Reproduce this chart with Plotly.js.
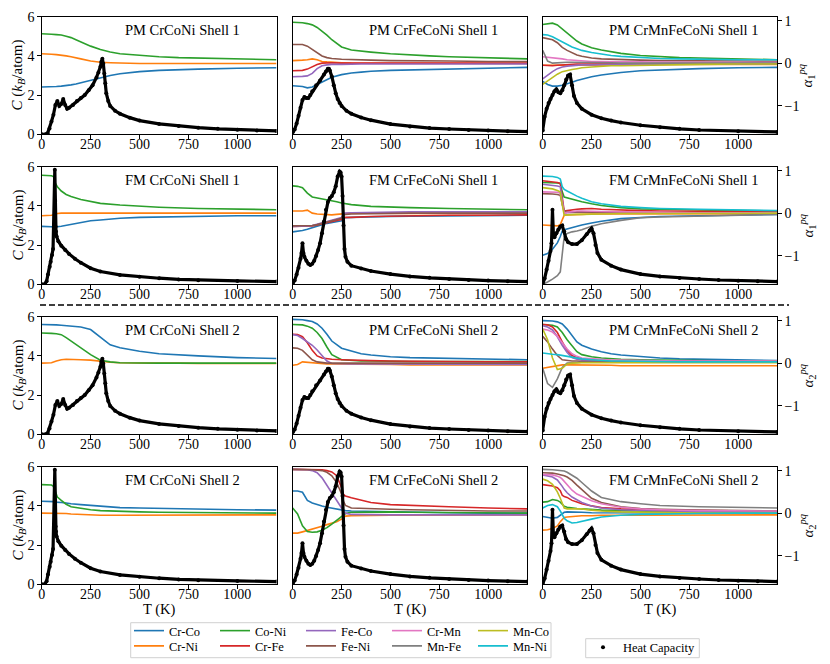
<!DOCTYPE html>
<html><head><meta charset="utf-8">
<script src="https://cdn.plot.ly/plotly-3.0.1.min.js"></script>
<style>html,body{margin:0;padding:0;background:#fff}#chart{width:830px;height:664px}</style>
</head><body><div id="chart"></div>
<script>
// ---------- labels ----------
const pairNames = ["Cr-Co","Cr-Ni","Co-Ni","Cr-Fe","Fe-Co","Fe-Ni","Cr-Mn","Mn-Fe","Mn-Co","Mn-Ni"];
const pairColors = ["#1f77b4","#ff7f0e","#2ca02c","#d62728","#9467bd","#8c564b","#e377c2","#7f7f7f","#bcbd22","#17becf"];
const panelTitles = ["PM CrCoNi Shell 1","PM CrFeCoNi Shell 1","PM CrMnFeCoNi Shell 1",
  "FM CrCoNi Shell 1","FM CrFeCoNi Shell 1","FM CrMnFeCoNi Shell 1",
  "PM CrCoNi Shell 2","PM CrFeCoNi Shell 2","PM CrMnFeCoNi Shell 2",
  "FM CrCoNi Shell 2","FM CrFeCoNi Shell 2","FM CrMnFeCoNi Shell 2"];
const xTicks = [0,250,500,750,1000];
const cTicks = [0,2,4,6];
const aTicks = [-1,0,1];

// ---------- heat capacity C (kB/atom) ----------
const hcT_PM_CrCoNi = [0,20,30,40,50,60,70,80,90,100,110,120,130,140,160,180,200,220,240,260,280,290,300,305,310,315,320,325,330,340,350,375,400,450,500,600,700,800,900,1000,1100,1200];
const hc_PM_CrCoNi  = [0,0,0.05,0.3,0.65,1.0,1.5,1.7,1.45,1.55,1.8,1.5,1.3,1.35,1.5,1.7,1.85,2.0,2.25,2.5,2.9,3.15,3.45,3.7,3.85,3.6,3.1,2.6,2.1,1.7,1.45,1.2,1.05,0.85,0.7,0.53,0.42,0.34,0.28,0.23,0.2,0.17];
const hcT_PM_CrFeCoNi = [0,10,20,30,40,50,60,70,80,90,100,120,140,160,170,180,185,190,200,210,220,230,240,250,275,300,350,400,500,600,700,800,900,1000,1100,1200];
const hc_PM_CrFeCoNi  = [0.1,0.25,0.55,0.95,1.35,1.75,1.9,1.85,1.85,2.0,2.2,2.5,2.75,3.05,3.2,3.35,3.35,3.25,2.95,2.5,2.1,1.8,1.6,1.45,1.2,1.05,0.86,0.72,0.52,0.4,0.32,0.27,0.22,0.19,0.16,0.14];
const hcT_PM_CrMnFeCoNi = [0,10,20,30,40,50,60,70,80,90,100,110,120,130,140,150,160,175,200,250,300,350,400,500,600,700,800,1000,1200];
const hc_PM_CrMnFeCoNi  = [0.2,0.9,1.3,1.6,1.8,2.0,2.2,2.3,2.15,2.1,2.25,2.5,2.8,3.0,3.05,2.5,1.95,1.6,1.3,1.0,0.82,0.7,0.6,0.46,0.36,0.28,0.22,0.15,0.12];
const hcT_FM_CrCoNi = [0,15,25,32,41,46,53,58,67,69,71,73,76,85,100,120,140,170,200,250,300,400,500,600,700,800,1000,1200];
const hc_FM_CrCoNi  = [0,0,0.15,0.5,0.9,1.15,1.5,1.8,5.85,4.25,2.95,2.7,2.45,2.2,1.97,1.75,1.55,1.3,1.1,0.82,0.65,0.48,0.38,0.31,0.25,0.21,0.17,0.14];
const hcT_FM_CrFeCoNi = [0,10,20,30,40,45,50,55,60,70,80,90,100,110,120,130,140,150,160,170,180,190,200,210,220,230,240,245,250,255,260,265,270,280,300,350,400,500,600,700,800,900,1000,1100,1200];
const hc_FM_CrFeCoNi  = [0.05,0.2,0.5,0.85,1.3,1.6,2.1,1.6,1.4,1.2,1.05,0.98,1.05,1.2,1.45,1.75,2.1,2.6,3.2,3.8,4.2,4.4,4.5,4.7,5.0,5.5,5.75,5.7,5.5,4.5,3.0,1.8,1.4,1.15,0.95,0.8,0.68,0.52,0.4,0.33,0.27,0.22,0.19,0.16,0.14];
const hcT_FM_CrMnFeCoNi = [0,10,20,30,40,45,50,55,60,70,80,90,100,110,120,130,150,175,200,225,240,250,260,270,280,300,350,400,500,600,700,800,900,1000,1100,1200];
const hc_FM_CrMnFeCoNi  = [0,0.3,0.75,1.2,1.7,2.1,3.8,2.5,2.4,2.6,2.8,2.95,3.0,2.7,2.3,2.15,2.05,2.05,2.25,2.55,2.75,2.85,2.6,2.0,1.6,1.25,0.95,0.75,0.52,0.4,0.32,0.27,0.22,0.18,0.16,0.14];

// ---------- temperature grids for alpha ----------
const T_PM = [0,25,50,75,100,125,150,175,200,250,300,350,400,500,600,700,800,1000,1200];
const T_FM_CrCoNi = [0,25,50,60,70,80,100,125,150,200,250,300,400,500,600,800,1000,1200];
const T_FM_CrFeCoNi = [0,25,50,75,100,125,150,175,200,225,250,260,270,300,400,500,600,800,1000,1200];
const T_FM_CrMnFeCoNi = [0,25,50,75,90,100,110,125,150,175,200,250,300,400,500,600,800,1000,1200];

// ---------- alpha: PM CrCoNi shell 1 ----------
const P1_CrCo = [-0.56,-0.56,-0.56,-0.55,-0.54,-0.53,-0.51,-0.49,-0.46,-0.40,-0.34,-0.29,-0.25,-0.20,-0.17,-0.15,-0.14,-0.12,-0.11];
const P1_CrNi = [0.22,0.22,0.21,0.2,0.19,0.17,0.15,0.13,0.1,0.05,0.02,0.01,0.0,-0.01,-0.01,-0.01,-0.01,-0.01,-0.01];
const P1_CoNi = [0.69,0.69,0.68,0.67,0.66,0.63,0.6,0.55,0.5,0.4,0.32,0.26,0.22,0.18,0.15,0.13,0.12,0.09,0.08];
// PM CrFeCoNi shell 1
const P2_CrCo = [-0.53,-0.54,-0.55,-0.58,-0.56,-0.5,-0.44,-0.38,-0.33,-0.27,-0.23,-0.21,-0.19,-0.17,-0.16,-0.14,-0.13,-0.11,-0.1];
const P2_CrNi = [0.06,0.06,0.07,0.08,0.1,0.08,0.04,0.03,0.02,0.01,0.0,0.0,0.0,-0.01,-0.01,-0.01,-0.01,-0.01,-0.01];
const P2_CoNi = [0.96,0.96,0.95,0.93,0.9,0.84,0.76,0.66,0.55,0.38,0.31,0.28,0.26,0.22,0.19,0.17,0.15,0.12,0.1];
const P2_CrFe = [-0.18,-0.18,-0.17,-0.14,-0.09,-0.03,0.0,0.01,0.01,0.0,0.0,0.0,0.0,0.0,0.0,0.0,0.0,0.0,0.0];
const P2_FeCo = [-0.32,-0.32,-0.31,-0.3,-0.24,-0.13,-0.06,-0.04,-0.03,-0.03,-0.02,-0.02,-0.02,-0.02,-0.02,-0.02,-0.02,-0.02,-0.02];
const P2_FeNi = [0.44,0.44,0.44,0.4,0.32,0.24,0.17,0.13,0.11,0.09,0.08,0.07,0.07,0.06,0.06,0.05,0.05,0.04,0.04];
// PM CrMnFeCoNi shell 1
const P3_CrCo = [-0.43,-0.5,-0.54,-0.54,-0.52,-0.49,-0.45,-0.41,-0.38,-0.32,-0.28,-0.25,-0.22,-0.18,-0.16,-0.14,-0.13,-0.11,-0.1];
const P3_CrNi = [-0.05,-0.05,-0.05,-0.05,-0.05,-0.05,-0.05,-0.05,-0.05,-0.04,-0.04,-0.04,-0.04,-0.04,-0.03,-0.03,-0.03,-0.03,-0.03];
const P3_CoNi = [0.91,0.92,0.94,0.9,0.8,0.7,0.6,0.52,0.45,0.36,0.31,0.27,0.23,0.18,0.15,0.13,0.12,0.1,0.08];
const P3_CrFe = [-0.05,-0.06,-0.06,-0.05,-0.04,-0.03,-0.03,-0.02,-0.02,-0.02,-0.01,-0.01,-0.01,-0.01,-0.01,0,0,0,0];
const P3_FeCo = [-0.37,-0.28,-0.2,-0.13,-0.09,-0.07,-0.06,-0.05,-0.04,-0.04,-0.03,-0.03,-0.03,-0.03,-0.02,-0.02,-0.02,-0.02,-0.02];
const P3_FeNi = [0.6,0.58,0.55,0.48,0.37,0.3,0.24,0.19,0.16,0.12,0.1,0.09,0.08,0.07,0.06,0.06,0.05,0.05,0.04];
const P3_CrMn = [0.15,0.14,0.12,0.11,0.1,0.08,0.07,0.06,0.05,0.04,0.04,0.03,0.03,0.03,0.02,0.02,0.02,0.02,0.02];
const P3_MnFe = [0.3,0.05,0.0,0.01,0.02,0.02,0.02,0.02,0.02,0.01,0.01,0.01,0.0,0.0,0.0,0.0,0.0,0.0,0.0];
const P3_MnCo = [-0.5,-0.42,-0.33,-0.26,-0.2,-0.17,-0.15,-0.13,-0.11,-0.09,-0.07,-0.06,-0.06,-0.05,-0.04,-0.04,-0.03,-0.02,-0.02];
const P3_MnNi = [0.67,0.66,0.62,0.56,0.49,0.43,0.38,0.34,0.3,0.25,0.21,0.18,0.16,0.13,0.11,0.1,0.09,0.08,0.08];
// FM CrCoNi shell 1
const P4_CrCo = [-0.31,-0.31,-0.32,-0.33,-0.33,-0.32,-0.31,-0.29,-0.27,-0.22,-0.18,-0.16,-0.12,-0.1,-0.09,-0.07,-0.06,-0.06];
const P4_CrNi = [-0.06,-0.06,-0.05,-0.04,-0.02,-0.01,0.0,0.0,0.0,0.0,0.0,0.0,0.0,0.0,0.0,0.0,0.0,0.0];
const P4_CoNi = [0.89,0.89,0.88,0.86,0.7,0.62,0.52,0.44,0.39,0.32,0.27,0.23,0.19,0.16,0.14,0.11,0.09,0.08];
// FM CrFeCoNi shell 1
const P5_CrCo = [-0.44,-0.43,-0.41,-0.38,-0.34,-0.3,-0.27,-0.24,-0.22,-0.2,-0.18,-0.12,-0.11,-0.1,-0.08,-0.075,-0.07,-0.06,-0.055,-0.05];
const P5_CrNi = [0.05,0.05,0.05,0.07,0.0,-0.02,-0.03,-0.04,-0.04,-0.03,-0.02,-0.01,0.0,0.0,0.0,-0.01,-0.01,-0.01,-0.01,-0.01];
const P5_CoNi = [0.64,0.63,0.6,0.47,0.38,0.36,0.34,0.32,0.3,0.27,0.24,0.23,0.22,0.2,0.16,0.14,0.13,0.11,0.09,0.08];
const P5_CrFe = [-0.31,-0.31,-0.31,-0.31,-0.3,-0.28,-0.25,-0.22,-0.2,-0.17,-0.15,-0.11,-0.1,-0.1,-0.08,-0.07,-0.06,-0.05,-0.05,-0.04];
const P5_FeCo = [-0.31,-0.31,-0.31,-0.3,-0.29,-0.26,-0.23,-0.2,-0.17,-0.14,-0.1,-0.02,0.0,0.01,0.02,0.02,0.03,0.03,0.03,0.03];
const P5_FeNi = [-0.3,-0.3,-0.3,-0.3,-0.29,-0.27,-0.24,-0.21,-0.18,-0.15,-0.12,-0.04,-0.03,-0.02,-0.01,-0.01,0.0,0.0,0.0,0.0];
// FM CrMnFeCoNi shell 1
const P6_CrCo = [-0.99,-0.95,-0.85,-0.7,-0.55,-0.42,-0.39,-0.37,-0.33,-0.3,-0.28,-0.23,-0.19,-0.13,-0.1,-0.08,-0.06,-0.04,-0.03];
const P6_CrNi = [-0.28,-0.29,-0.3,-0.3,-0.27,-0.15,-0.05,-0.04,-0.04,-0.03,-0.03,-0.02,-0.02,-0.02,-0.01,-0.01,-0.01,-0.01,-0.01];
const P6_CoNi = [0.72,0.72,0.72,0.71,0.7,0.5,0.38,0.36,0.33,0.3,0.27,0.22,0.18,0.13,0.1,0.09,0.07,0.06,0.05];
const P6_CrFe = [0.76,0.75,0.74,0.72,0.7,0.3,0.05,0.06,0.08,0.09,0.1,0.11,0.09,0.07,0.06,0.05,0.04,0.03,0.03];
const P6_FeCo = [0.68,0.67,0.66,0.64,0.62,0.3,0.0,0.01,0.02,0.02,0.02,0.02,0.01,0.01,0.01,0.0,0.0,0.0,0.0];
const P6_FeNi = [0.46,0.46,0.45,0.44,0.42,0.2,0.05,0.04,0.03,0.03,0.03,0.02,0.02,0.02,0.01,0.01,0.01,0.01,0.01];
const P6_CrMn = [0.5,0.5,0.5,0.49,0.47,0.2,0.0,0.02,0.04,0.05,0.05,0.04,0.04,0.03,0.02,0.02,0.01,0.01,0.01];
const P6_MnFe = [-1.67,-1.62,-1.55,-1.47,-1.38,-1.0,-0.55,-0.48,-0.44,-0.42,-0.39,-0.31,-0.25,-0.17,-0.11,-0.09,-0.07,-0.04,-0.03];
const P6_MnCo = [0.6,0.59,0.57,0.53,0.5,0.2,-0.05,-0.04,-0.03,-0.03,-0.03,-0.02,-0.02,-0.01,-0.01,0.0,0.0,0.0,0.0];
const P6_MnNi = [0.87,0.87,0.86,0.84,0.8,0.62,0.56,0.52,0.45,0.4,0.35,0.27,0.22,0.16,0.13,0.11,0.09,0.07,0.06];
// PM CrCoNi shell 2
const P7_CrCo = [0.91,0.91,0.9,0.9,0.89,0.88,0.87,0.86,0.85,0.79,0.6,0.43,0.36,0.28,0.22,0.19,0.17,0.13,0.11];
const P7_CrNi = [0.0,0.0,0.01,0.05,0.08,0.09,0.09,0.09,0.08,0.07,0.04,0.02,0.01,0.0,0.0,0.0,-0.01,-0.01,-0.01];
const P7_CoNi = [0.71,0.71,0.7,0.69,0.67,0.6,0.52,0.45,0.37,0.2,0.07,0.03,0.01,0.0,0.0,0.0,0.0,0.0,0.0];
// PM CrFeCoNi shell 2
const P8_CrCo = [1.03,1.03,1.02,1.0,0.98,0.92,0.82,0.68,0.52,0.35,0.28,0.22,0.19,0.15,0.13,0.12,0.11,0.09,0.08];
const P8_CrNi = [-0.05,-0.03,0.03,0.02,0.0,-0.01,-0.01,-0.02,-0.02,-0.02,-0.03,-0.03,-0.03,-0.03,-0.04,-0.04,-0.04,-0.04,-0.04];
const P8_CoNi = [0.91,0.91,0.9,0.87,0.82,0.72,0.58,0.38,0.2,0.08,0.06,0.05,0.05,0.04,0.04,0.04,0.04,0.04,0.04];
const P8_CrFe = [0.68,0.67,0.62,0.48,0.3,0.17,0.12,0.1,0.09,0.08,0.07,0.06,0.06,0.05,0.05,0.04,0.04,0.03,0.03];
const P8_FeCo = [0.67,0.65,0.58,0.5,0.42,0.31,0.18,0.05,-0.01,-0.02,-0.02,-0.02,-0.02,-0.03,-0.03,-0.03,-0.03,-0.03,-0.03];
const P8_FeNi = [0.36,0.35,0.3,0.19,0.08,0.03,0.01,0.0,0.0,0.0,0.0,0.0,0.0,0.0,0.0,0.0,0.0,0.0,0.0];
// PM CrMnFeCoNi shell 2
const P9_CrCo = [1.0,1.0,0.99,0.97,0.92,0.8,0.64,0.5,0.42,0.33,0.27,0.22,0.19,0.15,0.12,0.1,0.09,0.07,0.06];
const P9_CrNi = [-0.12,-0.1,-0.08,-0.06,-0.04,-0.04,-0.04,-0.05,-0.05,-0.05,-0.05,-0.05,-0.06,-0.06,-0.06,-0.06,-0.06,-0.06,-0.06];
const P9_CoNi = [0.91,0.9,0.89,0.85,0.72,0.55,0.4,0.27,0.2,0.15,0.12,0.1,0.09,0.08,0.07,0.07,0.06,0.05,0.05];
const P9_CrFe = [0.91,0.9,0.85,0.72,0.5,0.3,0.18,0.13,0.1,0.08,0.07,0.06,0.06,0.05,0.05,0.05,0.04,0.04,0.04];
const P9_FeCo = [0.88,0.85,0.78,0.62,0.42,0.25,0.13,0.09,0.07,0.06,0.05,0.05,0.05,0.05,0.04,0.04,0.04,0.04,0.04];
const P9_FeNi = [0.63,0.5,0.33,0.18,0.08,0.06,0.05,0.05,0.04,0.04,0.04,0.04,0.03,0.03,0.03,0.03,0.03,0.03,0.03];
const P9_CrMn = [0.8,0.78,0.73,0.63,0.48,0.33,0.22,0.16,0.12,0.1,0.08,0.07,0.07,0.06,0.06,0.05,0.05,0.05,0.05];
const P9_MnFe = [-0.12,-0.48,-0.57,-0.37,-0.1,0.0,0.01,0.02,0.02,0.02,0.02,0.02,0.02,0.02,0.02,0.02,0.02,0.02,0.02];
const P9_MnCo = [0.8,0.55,0.12,-0.15,-0.12,-0.02,0.0,0.01,0.01,0.01,0.01,0.01,0.01,0.01,0.01,0.01,0.01,0.01,0.01];
const P9_MnNi = [0.24,0.22,0.21,0.2,0.18,0.15,0.13,0.11,0.1,0.08,0.06,0.05,0.05,0.04,0.04,0.03,0.03,0.03,0.03];
// FM CrCoNi shell 2
const P10_CrCo = [0.28,0.28,0.27,0.27,0.26,0.26,0.25,0.24,0.22,0.2,0.18,0.16,0.13,0.12,0.11,0.09,0.08,0.07];
const P10_CrNi = [0.0,0.0,0.0,0.0,0.0,0.0,0.0,-0.01,-0.02,-0.03,-0.04,-0.05,-0.05,-0.05,-0.05,-0.04,-0.04,-0.04];
const P10_CoNi = [0.67,0.67,0.66,0.63,0.5,0.38,0.3,0.21,0.15,0.11,0.08,0.06,0.04,0.03,0.02,0.01,0.0,0.0];
// FM CrFeCoNi shell 2
const P11_CrCo = [0.52,0.52,0.49,0.3,0.24,0.2,0.17,0.14,0.12,0.09,0.07,0.06,0.06,0.05,0.04,0.03,0.02,0.01,0.0,0.0];
const P11_CrNi = [-0.47,-0.47,-0.44,-0.41,-0.37,-0.34,-0.31,-0.27,-0.24,-0.2,-0.14,-0.1,-0.07,-0.06,-0.05,-0.05,-0.05,-0.05,-0.04,-0.04];
const P11_CoNi = [0.12,-0.02,-0.3,-0.43,-0.45,-0.44,-0.4,-0.34,-0.26,-0.17,-0.08,-0.04,-0.01,0.02,0.03,0.03,0.02,0.01,0.0,0.0];
const P11_CrFe = [1.03,1.03,1.03,1.03,1.03,1.03,1.02,1.0,0.97,0.88,0.6,0.44,0.4,0.36,0.25,0.2,0.18,0.15,0.12,0.1];
const P11_FeCo = [1.03,1.03,1.03,1.02,1.0,0.95,0.83,0.66,0.48,0.3,0.12,0.04,0.0,-0.03,-0.04,-0.04,-0.04,-0.04,-0.04,-0.04];
const P11_FeNi = [1.03,1.03,1.03,1.03,1.02,1.01,1.0,0.96,0.88,0.72,0.45,0.28,0.18,0.12,0.1,0.09,0.08,0.06,0.05,0.05];
// FM CrMnFeCoNi shell 2
const P12_CrCo = [-0.08,-0.1,-0.12,-0.1,-0.04,0.0,0.02,0.03,0.03,0.02,0.02,0.01,0.01,0.01,0.0,0.0,0.0,0.0,0.0];
const P12_CrNi = [-0.4,-0.39,-0.36,-0.3,-0.2,-0.14,-0.1,-0.09,-0.08,-0.07,-0.06,-0.06,-0.05,-0.05,-0.05,-0.05,-0.04,-0.04,-0.04];
const P12_CoNi = [0.26,0.27,0.32,0.3,0.26,0.2,0.16,0.14,0.12,0.11,0.1,0.08,0.07,0.06,0.05,0.04,0.04,0.03,0.03];
const P12_CrFe = [0.67,0.66,0.64,0.6,0.53,0.42,0.39,0.37,0.3,0.26,0.22,0.17,0.13,0.1,0.08,0.07,0.06,0.05,0.05];
const P12_FeCo = [0.9,0.88,0.85,0.78,0.7,0.63,0.56,0.48,0.38,0.31,0.25,0.17,0.12,0.08,0.06,0.05,0.04,0.03,0.03];
const P12_FeNi = [0.95,0.95,0.94,0.92,0.91,0.9,0.88,0.85,0.77,0.66,0.55,0.35,0.25,0.15,0.11,0.09,0.07,0.06,0.05];
const P12_CrMn = [0.91,0.91,0.9,0.87,0.84,0.8,0.75,0.68,0.54,0.45,0.4,0.29,0.22,0.14,0.1,0.08,0.06,0.05,0.05];
const P12_MnFe = [1.03,1.03,1.02,1.01,1.0,1.0,0.99,0.96,0.9,0.82,0.72,0.52,0.37,0.27,0.22,0.18,0.15,0.13,0.12];
const P12_MnCo = [0.8,0.76,0.68,0.5,0.35,0.25,0.12,0.1,0.1,0.1,0.1,0.07,0.05,0.03,0.02,0.01,0.0,0.0,0.0];
const P12_MnNi = [0.12,0.18,0.2,0.15,0.05,-0.05,-0.12,-0.18,-0.23,-0.22,-0.19,-0.14,-0.09,-0.05,-0.03,-0.02,-0.01,0.0,0.0];

// ---------- panel table built from the arrays ----------
const panels = [
  {g:T_PM, hT:hcT_PM_CrCoNi, h:hc_PM_CrCoNi, a:{"Cr-Co":P1_CrCo,"Cr-Ni":P1_CrNi,"Co-Ni":P1_CoNi}},
  {g:T_PM, hT:hcT_PM_CrFeCoNi, h:hc_PM_CrFeCoNi, a:{"Cr-Co":P2_CrCo,"Cr-Ni":P2_CrNi,"Co-Ni":P2_CoNi,"Cr-Fe":P2_CrFe,"Fe-Co":P2_FeCo,"Fe-Ni":P2_FeNi}},
  {g:T_PM, hT:hcT_PM_CrMnFeCoNi, h:hc_PM_CrMnFeCoNi, a:{"Cr-Co":P3_CrCo,"Cr-Ni":P3_CrNi,"Co-Ni":P3_CoNi,"Cr-Fe":P3_CrFe,"Fe-Co":P3_FeCo,"Fe-Ni":P3_FeNi,"Cr-Mn":P3_CrMn,"Mn-Fe":P3_MnFe,"Mn-Co":P3_MnCo,"Mn-Ni":P3_MnNi}},
  {g:T_FM_CrCoNi, hT:hcT_FM_CrCoNi, h:hc_FM_CrCoNi, a:{"Cr-Co":P4_CrCo,"Cr-Ni":P4_CrNi,"Co-Ni":P4_CoNi}},
  {g:T_FM_CrFeCoNi, hT:hcT_FM_CrFeCoNi, h:hc_FM_CrFeCoNi, a:{"Cr-Co":P5_CrCo,"Cr-Ni":P5_CrNi,"Co-Ni":P5_CoNi,"Cr-Fe":P5_CrFe,"Fe-Co":P5_FeCo,"Fe-Ni":P5_FeNi}},
  {g:T_FM_CrMnFeCoNi, hT:hcT_FM_CrMnFeCoNi, h:hc_FM_CrMnFeCoNi, a:{"Cr-Co":P6_CrCo,"Cr-Ni":P6_CrNi,"Co-Ni":P6_CoNi,"Cr-Fe":P6_CrFe,"Fe-Co":P6_FeCo,"Fe-Ni":P6_FeNi,"Cr-Mn":P6_CrMn,"Mn-Fe":P6_MnFe,"Mn-Co":P6_MnCo,"Mn-Ni":P6_MnNi}},
  {g:T_PM, hT:hcT_PM_CrCoNi, h:hc_PM_CrCoNi, a:{"Cr-Co":P7_CrCo,"Cr-Ni":P7_CrNi,"Co-Ni":P7_CoNi}},
  {g:T_PM, hT:hcT_PM_CrFeCoNi, h:hc_PM_CrFeCoNi, a:{"Cr-Co":P8_CrCo,"Cr-Ni":P8_CrNi,"Co-Ni":P8_CoNi,"Cr-Fe":P8_CrFe,"Fe-Co":P8_FeCo,"Fe-Ni":P8_FeNi}},
  {g:T_PM, hT:hcT_PM_CrMnFeCoNi, h:hc_PM_CrMnFeCoNi, a:{"Cr-Co":P9_CrCo,"Cr-Ni":P9_CrNi,"Co-Ni":P9_CoNi,"Cr-Fe":P9_CrFe,"Fe-Co":P9_FeCo,"Fe-Ni":P9_FeNi,"Cr-Mn":P9_CrMn,"Mn-Fe":P9_MnFe,"Mn-Co":P9_MnCo,"Mn-Ni":P9_MnNi}},
  {g:T_FM_CrCoNi, hT:hcT_FM_CrCoNi, h:hc_FM_CrCoNi, a:{"Cr-Co":P10_CrCo,"Cr-Ni":P10_CrNi,"Co-Ni":P10_CoNi}},
  {g:T_FM_CrFeCoNi, hT:hcT_FM_CrFeCoNi, h:hc_FM_CrFeCoNi, a:{"Cr-Co":P11_CrCo,"Cr-Ni":P11_CrNi,"Co-Ni":P11_CoNi,"Cr-Fe":P11_CrFe,"Fe-Co":P11_FeCo,"Fe-Ni":P11_FeNi}},
  {g:T_FM_CrMnFeCoNi, hT:hcT_FM_CrMnFeCoNi, h:hc_FM_CrMnFeCoNi, a:{"Cr-Co":P12_CrCo,"Cr-Ni":P12_CrNi,"Co-Ni":P12_CoNi,"Cr-Fe":P12_CrFe,"Fe-Co":P12_FeCo,"Fe-Ni":P12_FeNi,"Cr-Mn":P12_CrMn,"Mn-Fe":P12_MnFe,"Mn-Co":P12_MnCo,"Mn-Ni":P12_MnNi}}
];

// ---------- layout geometry ----------
const W = 830, H = 664;
const colPx = [[41.7,276.5],[292.7,527.3],[542.7,777.3]];
const rowPx = [[16.7,134.3],[166.7,284.3],[316.7,434.3],[466.7,584.3]];
const FONT = "Liberation Serif";
const sid = n => (n === 1 ? "" : String(n));
const tf = {family: FONT, size: 14, color: "#000"};

const data = [];
const layout = {
  width: W, height: H, margin: {l:0, r:0, t:0, b:0},
  paper_bgcolor: "#fff", plot_bgcolor: "rgba(0,0,0,0)",
  font: {family: FONT, size: 14, color: "#000"},
  showlegend: true,
  annotations: [], shapes: []
};

panels.forEach((p, i) => {
  const k = i + 1, r = Math.floor(i / 3), c = i % 3;
  const xa = "x" + sid(k), ya = "y" + sid(2*k - 1), yc = "y" + sid(2*k);
  const xDom = [colPx[c][0]/W, colPx[c][1]/W];
  const yDom = [1 - rowPx[r][1]/H, 1 - rowPx[r][0]/H];

  layout["xaxis" + sid(k)] = {
    domain: xDom, anchor: ya, range: [0, 1200], tickvals: xTicks,
    ticks: "outside", ticklen: 3.5, tickwidth: 1, tickcolor: "#000", ticklabelstandoff: -7,
    showline: true, mirror: true, linecolor: "#000", linewidth: 1,
    showgrid: false, zeroline: false, tickfont: tf
  };
  layout["yaxis" + sid(2*k - 1)] = {
    domain: yDom, anchor: xa, side: "right", range: [-1.673, 1.092], tickvals: aTicks,
    ticks: c === 2 ? "outside" : "", ticklen: 3.5, tickwidth: 1, tickcolor: "#000",
    showticklabels: c === 2, showline: true, mirror: true, linecolor: "#000", linewidth: 1,
    showgrid: false, zeroline: false, tickfont: tf
  };
  layout["yaxis" + sid(2*k)] = {
    overlaying: ya, anchor: xa, side: "left", range: [0, 6], tickvals: cTicks,
    ticks: c === 0 ? "outside" : "", ticklen: 3.5, tickwidth: 1, tickcolor: "#000",
    showticklabels: c === 0, showline: false, showgrid: false, zeroline: false, tickfont: tf
  };

  pairNames.forEach((name, j) => {
    const vals = p.a[name];
    if (!vals) return;
    data.push({
      type: "scatter", mode: "lines", x: p.g, y: vals, xaxis: xa, yaxis: ya,
      name: name, line: {color: pairColors[j], width: 1.6},
      showlegend: k === 3, legend: (j % 2 === 0) ? "legend" : "legend2",
      hoverinfo: "skip"
    });
  });

  data.push({
    type: "scatter", mode: "lines", x: p.hT, y: p.h, xaxis: xa, yaxis: yc,
    line: {color: "#000", width: 3.2}, showlegend: false, hoverinfo: "skip"
  });
  data.push({
    type: "scatter", mode: "markers", x: p.hT, y: p.h, xaxis: xa, yaxis: yc,
    name: "Heat Capacity", marker: {color: "#000", size: 4},
    showlegend: k === 1, legend: "legend3", hoverinfo: "skip"
  });

  layout.annotations.push({
    xref: xa + " domain", yref: ya + " domain", x: 0.6, y: 0.887,
    text: panelTitles[i], showarrow: false, xanchor: "center", yanchor: "middle",
    font: {family: FONT, size: 14.5, color: "#000"}
  });

  const yMid = 1 - (rowPx[r][0] + rowPx[r][1]) / 2 / H;
  if (c === 0) {
    layout.annotations.push({xref: "paper", yref: "paper", x: 18/W, y: yMid, textangle: -90,
      text: "<i>C</i> (<i>k</i><sub><i>B</i></sub>/atom)", showarrow: false,
      xanchor: "center", yanchor: "middle", font: {family: FONT, size: 15, color: "#000"}});
  }
  if (c === 2) {
    layout.annotations.push({xref: "paper", yref: "paper", x: 807/W, y: yMid, textangle: -90,
      text: "<i>α</i><sub>" + (r < 2 ? 1 : 2) + "</sub><sup><i>pq</i></sup>", showarrow: false,
      xanchor: "center", yanchor: "middle", font: {family: FONT, size: 15, color: "#000"}});
  }
  if (r === 3) {
    layout.annotations.push({xref: "paper", yref: "paper", x: (colPx[c][0] + colPx[c][1]) / 2 / W, y: 1 - 609/H,
      text: "T (K)", showarrow: false, xanchor: "center", yanchor: "middle",
      font: {family: FONT, size: 14.5, color: "#000"}});
  }
});

const legFont = {family: FONT, size: 12.5, color: "#000"};
const legCommon = {orientation: "h", xanchor: "left", yanchor: "middle", bgcolor: "rgba(0,0,0,0)",
  borderwidth: 0, font: legFont, entrywidthmode: "pixels", entrywidth: 41, itemwidth: 30, traceorder: "normal"};
layout.legend  = Object.assign({}, legCommon, {x: 129/W, y: 1 - 631/H});
layout.legend2 = Object.assign({}, legCommon, {x: 129/W, y: 1 - 646.3/H});
layout.legend3 = Object.assign({}, legCommon, {x: 583/W, y: 1 - 647.5/H, entrywidth: 0});

layout.shapes.push(
  {type: "line", xref: "paper", yref: "paper", x0: 40/W, x1: 789/W, y0: 1 - 305/H, y1: 1 - 305/H,
   line: {color: "#000", width: 1.6, dash: "6px,3px"}},
  {type: "rect", xref: "paper", yref: "paper", x0: 130.7/W, x1: 551/W, y0: 1 - 657.7/H, y1: 1 - 622.7/H,
   line: {color: "#d0d0d0", width: 1}, fillcolor: "rgba(0,0,0,0)", layer: "below"},
  {type: "rect", xref: "paper", yref: "paper", x0: 585.7/W, x1: 699.3/W, y0: 1 - 657.7/H, y1: 1 - 638.7/H,
   line: {color: "#d0d0d0", width: 1}, fillcolor: "rgba(0,0,0,0)", layer: "below"}
);

Plotly.newPlot("chart", data, layout, {staticPlot: true, displayModeBar: false});
</script></body></html>
